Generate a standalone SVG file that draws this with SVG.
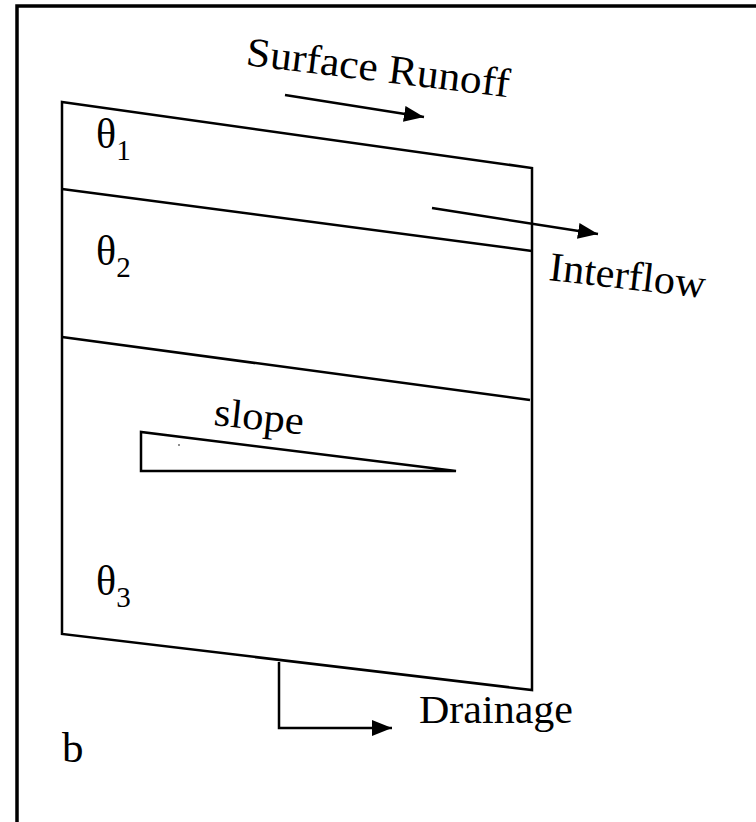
<svg xmlns="http://www.w3.org/2000/svg" width="756" height="822" viewBox="0 0 756 822">
<defs>
<style>
.ln{fill:none;stroke:#000;stroke-width:2.5;stroke-linejoin:miter}
.t{font-family:"Liberation Serif","Times New Roman",serif;fill:#000}
</style>
<marker id="ah2" viewBox="0 0 20 16" refX="20" refY="8" markerWidth="20" markerHeight="16" markerUnits="userSpaceOnUse" orient="auto">
<path d="M0,0 L20,8 L0,16 Z" fill="#000"/>
</marker>
</defs>
<rect x="17" y="6" width="760" height="840" fill="#fff" stroke="#000" stroke-width="3.5"/>
<g id="soil">
<path class="ln" d="M62,102 L532,168 L532,690 L62,634 Z"/>
<line class="ln" x1="62" y1="189" x2="532" y2="251"/>
<line class="ln" x1="62" y1="337" x2="530" y2="400"/>
</g>
<g id="slope">
<path class="ln" d="M141,432 L141,471 L456,471 Z"/>
<circle cx="179" cy="445" r="0.8" fill="#000"/>
<text class="t" x="213" y="425" font-size="40" textLength="90" lengthAdjust="spacingAndGlyphs" transform="rotate(6 213 425)">slope</text>
</g>
<g id="labels">
<text class="t" x="96" y="148" font-size="42">θ<tspan font-size="29" dy="12">1</tspan></text>
<text class="t" x="96" y="265" font-size="42">θ<tspan font-size="29" dy="12">2</tspan></text>
<text class="t" x="96" y="595" font-size="42">θ<tspan font-size="29" dy="12">3</tspan></text>
<text class="t" x="62" y="762" font-size="43">b</text>
</g>
<g id="connectors">
<line class="ln" x1="285" y1="95" x2="424" y2="117" marker-end="url(#ah2)"/>
<line class="ln" x1="432" y1="208" x2="598" y2="234" marker-end="url(#ah2)"/>
<polyline class="ln" points="279,662 279,728 392,728" marker-end="url(#ah2)"/>
</g>
<g id="flow-labels">
<text class="t" x="245" y="65" font-size="41" textLength="265" lengthAdjust="spacingAndGlyphs" transform="rotate(7 245 65)">Surface Runoff</text>
<text class="t" x="548" y="280" font-size="41" textLength="157" lengthAdjust="spacingAndGlyphs" transform="rotate(6.6 548 280)">Interflow</text>
<text class="t" x="419" y="723" font-size="40" textLength="154" lengthAdjust="spacingAndGlyphs">Drainage</text>
</g>
</svg>
